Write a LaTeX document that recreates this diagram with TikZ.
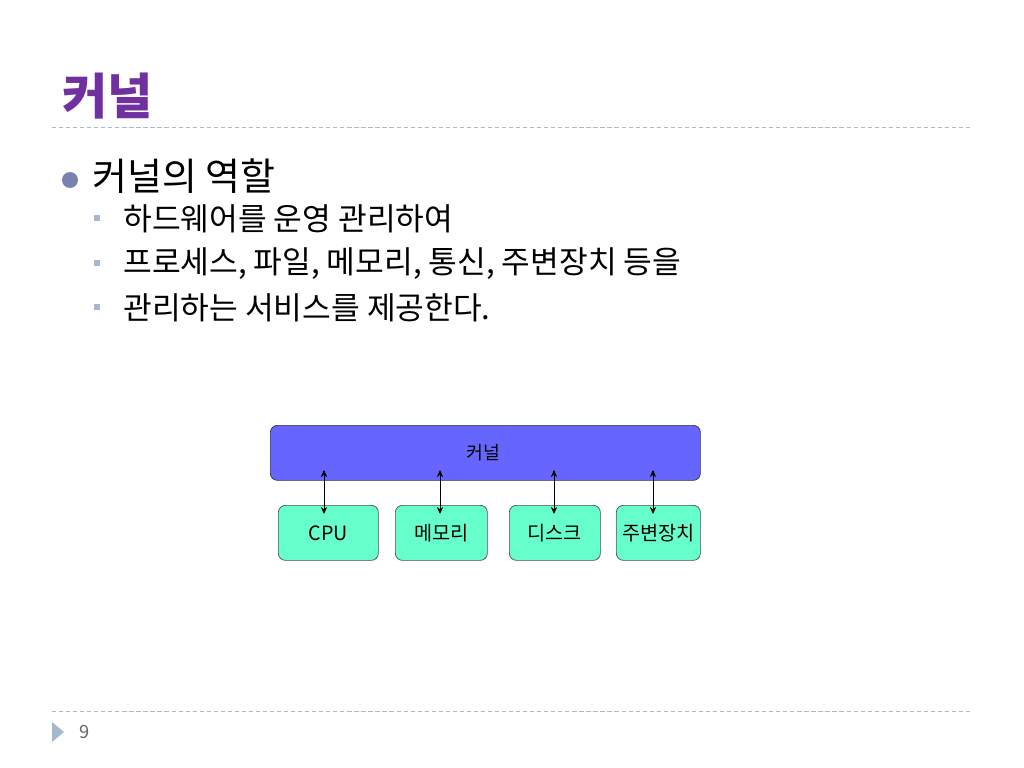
\documentclass[tikz,border=0pt]{standalone}
\usepackage{fontspec}
\setmainfont{Noto Sans CJK KR}
\usepackage{xcolor}
\usetikzlibrary{arrows.meta, positioning, calc}

\definecolor{titlepurple}{HTML}{7030A0}
\definecolor{rulegray}{HTML}{A9BACB}
\definecolor{bulletslate}{HTML}{7782AE}
\definecolor{subbullet}{HTML}{A8B8CC}
\definecolor{kernelblue}{HTML}{6666FF}
\definecolor{devicegreen}{HTML}{66FFCC}

\tikzset{
  rulerline/.style={rulegray, dashed, dash pattern=on 3pt off 2pt, line width=0.6pt},
  subtext/.style={anchor=west, inner sep=0pt, font=\fontsize{22.2}{26}\selectfont},
  kernelbox/.style={draw=black!80, fill=kernelblue, rounded corners=5pt, line width=0.5pt},
  devbox/.style={draw=black!70, fill=devicegreen, rounded corners=5pt, line width=0.5pt,
                 font=\fontsize{14}{16}\selectfont},
  link/.style={{Stealth[length=5pt,width=4.5pt]}-{Stealth[length=5pt,width=4.5pt]}, line width=0.5pt}
}

\begin{document}
\begin{tikzpicture}[x=0.025cm, y=-0.025cm]
  \useasboundingbox (0,0) rectangle (1024,768);
  % title and rules
  \node[anchor=west, inner sep=0pt, text=titlepurple, font=\fontsize{35}{40}\selectfont\bfseries]
    (title) at (62,96) {커널};
  \draw[rulerline] (52,127) -- (972,127);
  \draw[rulerline] (52,711) -- (972,711);
  % bullets
  \fill[bulletslate] (70,180) circle (8);
  \node[anchor=west, inner sep=0pt, font=\fontsize{27}{31}\selectfont] (role) at (92,176) {커널의 역할};
  \foreach \y/\txt [count=\i] in {218/하드웨어를 운영 관리하여,
                                  263/{프로세스, 파일, 메모리, 통신, 주변장치 등을},
                                  307/관리하는 서비스를 제공한다.} {
    \fill[subbullet] (94,{\y-3}) rectangle (100,{\y+3});
    \node[subtext] (line\i) at (123,{\y+1}) {\txt};
  }
  % kernel and devices
  \node[kernelbox, minimum width=430*0.025cm, minimum height=55*0.025cm, anchor=north west,
        inner sep=0pt] (kernel) at (270,425) {};
  \node[font=\fontsize{13}{15}\selectfont] at (483,453) {커널};
  \foreach \name/\txt/\xl/\xr in {cpu/CPU/278/378, mem/메모리/395/487,
                                  disk/디스크/509/600, periph/주변장치/616/700} {
    \node[devbox, anchor=north west, inner sep=0pt, minimum height=55*0.025cm,
          minimum width={(\xr-\xl)*0.025cm}] (\name) at (\xl,505) {};
    \node[font=\fontsize{14}{16}\selectfont] at (\name.center) {\txt};
  }
  \foreach \x/\name in {324/cpu, 440/mem, 554/disk, 653/periph} {
    \coordinate (top\name) at (\x,470);
    \coordinate (bot\name) at (\x,514);
    \draw[link] (top\name) -- (bot\name);
  }
  % footer
  \fill[subbullet] (52,722) -- (64,732) -- (52,742) -- cycle;
  \node[anchor=west, inner sep=0pt, text=black!60, font=\fontsize{13}{15}\selectfont] (pagenum) at (79,732) {9};
\end{tikzpicture}
\end{document}
